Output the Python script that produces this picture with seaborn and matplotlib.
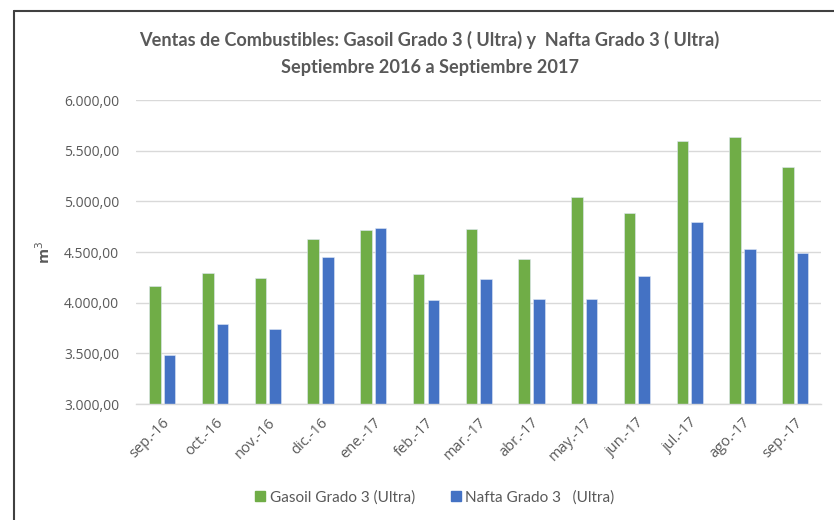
import numpy as np
import pandas as pd
import matplotlib
matplotlib.use('Agg')
import matplotlib.pyplot as plt
import matplotlib.ticker as mticker
from matplotlib.lines import Line2D
import seaborn as sns

# datos (m3)
meses = ['sep.-16', 'oct.-16', 'nov.-16', 'dic.-16', 'ene.-17', 'feb.-17', 'mar.-17',
         'abr.-17', 'may.-17', 'jun.-17', 'jul.-17', 'ago.-17', 'sep.-17']
gasoil = [4167, 4293, 4246, 4631, 4720, 4283, 4730, 4434, 5043, 4881, 5595, 5635, 5335]
nafta = [3480, 3792, 3740, 4454, 4737, 4023, 4237, 4039, 4033, 4266, 4792, 4533, 4495]
series = ['Gasoil Grado 3 (Ultra)', 'Nafta Grado 3   (Ultra)']
colores = ['#70AD47', '#4472C4']
yticks = [3000, 3500, 4000, 4500, 5000, 5500, 6000]

df = pd.DataFrame({'mes': meses, series[0]: gasoil, series[1]: nafta})
df = df.melt(id_vars='mes', var_name='serie', value_name='m3')

sns.set_style('white')
plt.rcParams['font.family'] = ['Open Sans', 'DejaVu Sans']
titulo_font = ['Lato', 'DejaVu Sans']
gris = '#595959'

fig = plt.figure(figsize=(8.34, 5.2), dpi=100)
ax = fig.add_axes([0.163, 0.223, 0.822, 0.5845])

sns.barplot(data=df, x='mes', y='m3', hue='serie', palette=colores, order=meses,
            hue_order=series, width=0.556, gap=0.21, ax=ax, saturation=1,
            edgecolor='#dfe8f5', linewidth=0.4, errorbar=None)

ax.set_ylim(3000, 6000)
ax.set_xlim(-0.5, len(meses) - 0.5)
ax.set_yticks(yticks)
ax.yaxis.set_major_formatter(mticker.FuncFormatter(
    lambda v, p: '{:,.2f}'.format(v).replace(',', 'X').replace('.', ',').replace('X', '.')))
ax.yaxis.grid(True, color='#D9D9D9', linewidth=1)
ax.set_axisbelow(True)
for s in ['top', 'right', 'left']:
    ax.spines[s].set_visible(False)
ax.spines['bottom'].set_color('#D9D9D9')
ax.spines['bottom'].set_linewidth(1)

ax.tick_params(axis='y', length=0, labelsize=10, labelcolor=gris, pad=12)
ax.tick_params(axis='x', which='major', length=0, labelsize=10.5, labelcolor=gris, pad=8)
ax.set_xticks(np.arange(-0.5, len(meses), 1), minor=True)
ax.tick_params(axis='x', which='minor', length=5, color='#D9D9D9', width=1)
plt.setp(ax.get_xticklabels(), rotation=45, ha='right', rotation_mode='anchor')

ax.set_xlabel('')
ax.set_ylabel('m$^3$', fontsize=11, color=gris, fontweight='bold', labelpad=8)

fig.text(0.515, 0.923, 'Ventas de Combustibles: Gasoil Grado 3 ( Ultra) y  Nafta Grado 3 ( Ultra)',
         ha='center', va='center', fontsize=13.1, fontweight='bold', color=gris, family=titulo_font)
fig.text(0.515, 0.871, 'Septiembre 2016 a Septiembre 2017',
         ha='center', va='center', fontsize=13.1, fontweight='bold', color=gris, family=titulo_font)

handles = [Line2D([], [], marker='s', linestyle='none', markersize=6.5, color=c) for c in colores]
ax.get_legend().remove()
fig.legend(handles, series, loc='center', bbox_to_anchor=(0.52, 0.044), ncol=2,
           frameon=False, handletextpad=0.1, columnspacing=2.2, handlelength=1.0,
           prop={'family': titulo_font, 'size': 11}, labelcolor=gris)

# marco del grafico
fig.add_artist(Line2D([14 / 834, 14 / 834], [0, 1 - 11 / 520], transform=fig.transFigure,
                      color='#404040', linewidth=1.5))
fig.add_artist(Line2D([14 / 834, 1], [1 - 11 / 520, 1 - 11 / 520], transform=fig.transFigure,
                      color='#404040', linewidth=1.5))

fig.savefig('out.png', dpi=100)
